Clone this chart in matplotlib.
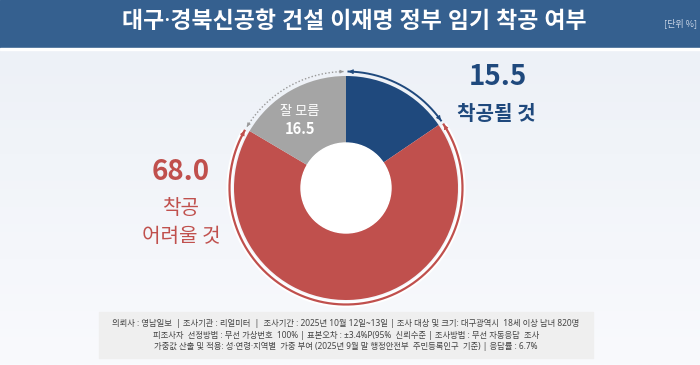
import numpy as np
import matplotlib
matplotlib.use("Agg")
import matplotlib.pyplot as plt
from matplotlib.patches import Rectangle
from matplotlib.colors import LinearSegmentedColormap

plt.rcParams['font.family'] = ['Noto Sans CJK KR', 'DejaVu Sans']
MIX = ['Noto Sans', 'Noto Sans CJK KR']

title = "대구·경북신공항 건설 이재명 정부 임기 착공 여부"
unit = "[단위 %]"
categories = ["착공될 것", "착공 어려울 것", "잘 모름"]
values = [15.5, 68.0, 16.5]
colors = ["#1f497d", "#c0504d", "#a5a5a5"]
footer = [
    "의뢰사 : 영남일보  | 조사기관 : 리얼미터  |  조사기간 : 2025년 10월 12일~13일 | 조사 대상 및 크기: 대구광역시  18세 이상 남녀 820명",
    "피조사자  선정방법 : 무선 가상번호  100% | 표본오차 : ±3.4%P(95%  신뢰수준 | 조사방법 : 무선 자동응답  조사",
    "가중값 산출 및 적용: 성·연령·지역별  가중 부여 (2025년 9월 말 행정안전부  주민등록인구  기준) | 응답률 : 6.7%",
]

W, H = 700, 365
fig = plt.figure(figsize=(7, 3.65), dpi=100)
ax = fig.add_axes([0, 0, 1, 1])

# donut
cx, cy = 346, H - 188
R, r = 112, 45
wedges, _ = ax.pie(values, colors=colors, startangle=90, counterclock=False,
                   center=(cx, cy), radius=R, frame=True,
                   wedgeprops=dict(width=R - r, linewidth=0))
ax.set_xlim(0, W)
ax.set_ylim(0, H)
ax.set_aspect('equal')
ax.axis('off')
for w in wedges:
    w.set_zorder(3)
ax.add_patch(plt.Circle((cx, cy), r, color="white", zorder=4))

# background
grad = np.linspace(0, 1, 200).reshape(-1, 1)
cmap = LinearSegmentedColormap.from_list("bg", ["#f9fafd", "#edf1f7"])
ax.imshow(grad, extent=[0, W, 0, H - 48], cmap=cmap, aspect='auto', zorder=0, origin='lower')
ax.set_xlim(0, W)
ax.set_ylim(0, H)

# title bar
ax.add_patch(Rectangle((0, H - 47.5), W, 47.5, color="#35608f", zorder=1))
ax.add_patch(Rectangle((0, H - 49.5), W, 2, color="#ffffff", zorder=1))
ax.text(354, H - 22, title, color="white", fontsize=16.5, fontweight='bold',
        family=MIX, ha='center', va='center', zorder=2)
ax.text(681, H - 23, unit, color="#c9d5e6", fontsize=6.5, ha='center', va='center', zorder=2)

# footer box
ax.add_patch(Rectangle((99, H - 358), 494, 46, color="#efefef", zorder=1))
for i, line in enumerate(footer):
    ax.text(346, H - 324 - i * 11.3, line, color="#444444", fontsize=6.0,
            family=MIX, ha='center', va='center', zorder=2)

# outer arcs with arrowheads
bounds = 90 - np.cumsum([0] + values) * 3.6
arc_r = 116.5

def arc(a0, a1, color, ls='-', lw=1.4, rad=arc_r, under=False, ms=7):
    gap = 1.2
    t = np.radians(np.linspace(a0 - gap, a1 + gap, 200))
    x = cx + rad * np.cos(t)
    y = cy + rad * np.sin(t)
    if under:
        ax.plot(x, y, color="white", lw=4.5, zorder=4, solid_capstyle='butt')
    ax.plot(x, y, color=color, lw=lw, ls=ls, zorder=5)
    for idx, nb in ((0, 4), (-1, -5)):
        ax.annotate("", xy=(x[idx], y[idx]), xytext=(x[nb], y[nb]),
                    arrowprops=dict(arrowstyle="-|>", color=color, lw=0.6,
                                    mutation_scale=ms, shrinkA=0, shrinkB=0),
                    zorder=6)

arc(bounds[0], bounds[1], colors[0], lw=1.4)
arc(bounds[1], bounds[2], colors[1], lw=1.6, under=True)
arc(bounds[2], bounds[3], "#999999", ls=(0, (1, 1.5)), lw=1.0, ms=5)

# labels
ax.text(498, H - 77, f"{values[0]:.1f}", color=colors[0], fontsize=20,
        fontweight='bold', ha='center', va='center', zorder=6)
ax.text(496, H - 113, categories[0], color=colors[0], fontsize=14.5,
        fontweight='bold', ha='center', va='center', zorder=6)

ax.text(181, H - 172, f"{values[1]:.1f}", color=colors[1], fontsize=20,
        fontweight='bold', ha='center', va='center', zorder=6)
ax.text(181, H - 208, "착공", color=colors[1], fontsize=14.5,
        ha='center', va='center', zorder=6)
ax.text(181, H - 236, "어려울 것", color=colors[1], fontsize=14.5,
        ha='center', va='center', zorder=6)

ax.text(300, H - 112, categories[2], color="white", fontsize=9.5,
        ha='center', va='center', zorder=6)
ax.text(300, H - 129, f"{values[2]:.1f}", color="white", fontsize=10.5,
        fontweight='bold', ha='center', va='center', zorder=6)

fig.savefig("out.png", dpi=100)
